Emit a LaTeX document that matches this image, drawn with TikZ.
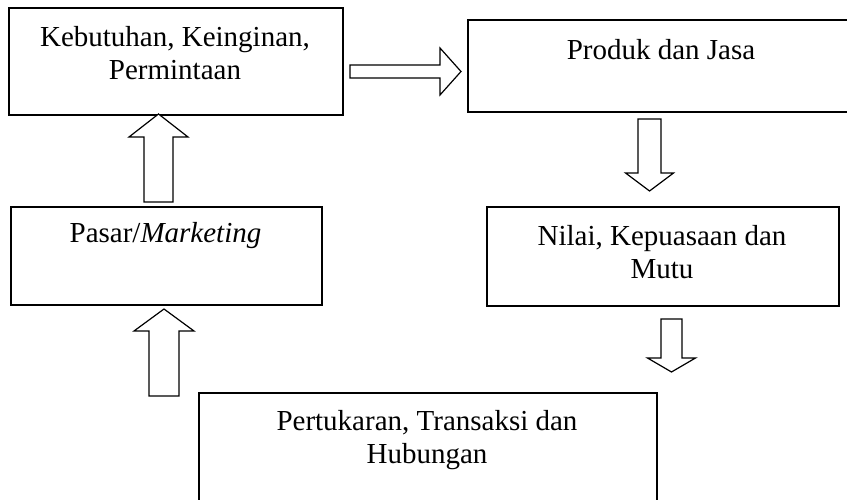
\documentclass[tikz,border=0pt]{standalone}
\usepackage{fontspec}
\setmainfont{Liberation Serif}
\begin{document}
\begin{tikzpicture}[x=1pt,y=-1pt,
  box/.style={draw=black, line width=1.6pt, anchor=north west, inner sep=0pt},
  lbl/.style={anchor=base, align=center, inner sep=0pt,
    font=\fontsize{29}{33}\selectfont},
  arrowline/.style={draw=black, line width=1.2pt, line join=miter, fill=white},
  pics/blockarrow/.style args={#1/#2/#3/#4}{% length / shaft half-width / head half-width / head length
    code={\path[arrowline] (0,-#2) -- (#1-#4,-#2) -- (#1-#4,-#3) -- (#1,0)
      -- (#1-#4,#3) -- (#1-#4,#2) -- (0,#2) -- cycle;}}]
  \useasboundingbox (0,0) rectangle (847,500);
  \clip (0,0) rectangle (847,500);
  \fill[white] (0,0) rectangle (847,500);

  % boxes
  \node[box, minimum width=334, minimum height=107] (kebutuhan) at (8,7) {};
  \node[box, minimum width=388, minimum height=92]  (produk)    at (467,19) {};
  \node[box, minimum width=311, minimum height=98]  (pasar)     at (10,206) {};
  \node[box, minimum width=352, minimum height=99]  (nilai)     at (486,206) {};
  \node[box, minimum width=458, minimum height=120] (pertukaran) at (198,392) {};

  % labels (the base anchor sits on the last line)
  \node[lbl] (tkebutuhan) at (175,80) {Kebutuhan, Keinginan,\\Permintaan};
  \node[lbl] (tproduk) at (661,60) {Produk dan Jasa};
  \node[lbl] (tpasar) at (165.5,243) {Pasar/\textit{Marketing}};
  \node[lbl] (tnilai) at (662,278) {Nilai, Kepuasaan dan\\Mutu};
  \node[lbl] (tpertukaran) at (427,463) {Pertukaran, Transaksi dan\\Hubungan};

  % arrow tails
  \coordinate (a1) at (350,71.5);
  \coordinate (a2) at (649.5,119);
  \coordinate (a3) at (158.5,202);
  \coordinate (a4) at (164,396);
  \coordinate (a5) at (671.5,319);

  % block arrows
  \pic at (a1) {blockarrow={111/6.5/23.5/21}};
  \pic[rotate=-90] at (a2) {blockarrow={72/11.5/24/18}};
  \pic[rotate=90] at (a3) {blockarrow={88/14.5/29.5/23}};
  \pic[rotate=90] at (a4) {blockarrow={87/15/30/22}};
  \pic[rotate=-90] at (a5) {blockarrow={53/10.5/24/14}};
\end{tikzpicture}
\end{document}
